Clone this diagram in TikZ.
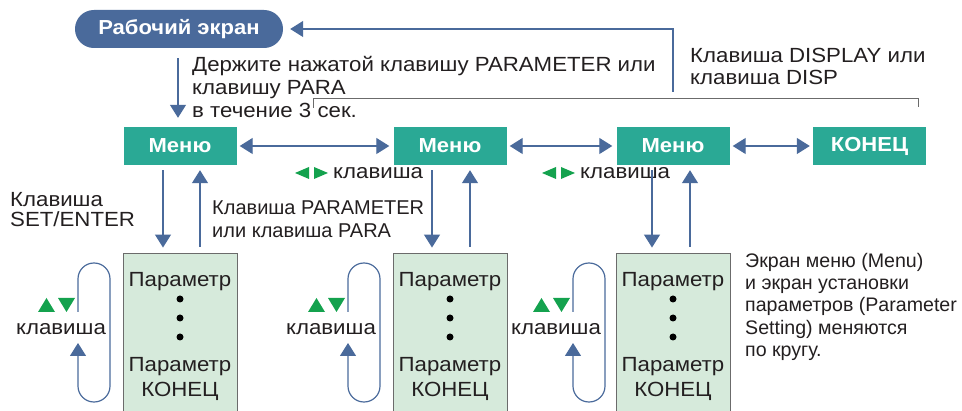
\documentclass[tikz,border=0pt]{standalone}
\usepackage{fontspec}
\setmainfont{Liberation Sans}[FakeStretch=1.085]
\newfontfamily\notefont{Liberation Sans}
\usetikzlibrary{arrows.meta}
\definecolor{cblue}{HTML}{4A6A9B}
\definecolor{cteal}{HTML}{2AA995}
\definecolor{cpale}{HTML}{D6EADB}
\definecolor{cgrid}{HTML}{6B6B6B}
\definecolor{cgreen}{HTML}{14A24E}
\definecolor{ctext}{HTML}{231F20}
\begin{document}
\begin{tikzpicture}[x=1pt,y=-1pt,
  txt/.style={font=\fontsize{20.5}{24}\selectfont, text=ctext, inner sep=0pt, anchor=base west},
  ctxt/.style={font=\fontsize{20.5}{24}\selectfont, text=ctext, inner sep=0pt, anchor=base},
  notetxt/.style={font=\notefont\fontsize{19.6}{24}\selectfont, text=ctext, inner sep=0pt, anchor=base west},
  arr/.style={draw=cblue, line width=1.3pt, -{Triangle[width=16pt,length=13pt]}},
  darr/.style={draw=cblue, line width=1.3pt, {Triangle[width=16pt,length=13pt]}-{Triangle[width=16pt,length=13pt]}},
  loopline/.style={draw=cblue, line width=1.2pt, rounded corners=15.9pt, -{Triangle[width=16pt,length=13pt]}},
  menubox/.style={fill=cteal, minimum width=113pt, minimum height=38pt, inner sep=0pt, text=white, font=\bfseries\fontsize{20.3}{24}\selectfont},
  pill/.style={fill=cblue, rounded corners=18.9pt, minimum width=208pt, minimum height=38pt, inner sep=0pt, text=white, font=\bfseries\fontsize{20.3}{24}\selectfont},
  parbox/.style={fill=cpale, draw=cgrid, line width=0.9pt, minimum width=114pt, minimum height=167pt, inner sep=0pt},
  bracket/.style={draw=cgrid, line width=0.8pt},
  gtri/.style={fill=cgreen},
  dot/.style={circle, fill=black, minimum size=7pt, inner sep=0pt}
]
\useasboundingbox (0,0) rectangle (962,411);
\clip (0,0) rectangle (962,411);

% top screen
\node[pill] (work) at (179,29) {Рабочий экран};

% menu row
\node[menubox] (m1) at (180,146) {Меню};
\node[menubox] (m2) at (450,146) {Меню};
\node[menubox] (m3) at (673,146) {Меню};
\node[menubox] (mend) at (869.5,146) {КОНЕЦ};

% parameter boxes
\node[parbox] (p1) at (180,336.5) {};
\node[parbox] (p2) at (450,336.5) {};
\node[parbox] (p3) at (673,336.5) {};

% DISPLAY arrow
\coordinate (dtop) at (673,92);
\draw[arr, shorten >=7pt] (dtop) |- (work.east);
\node[txt] at (690,63) {Клавиша DISPLAY или};
\node[txt] at (690,85) {клавиша DISP};

% bracket
\coordinate (bl) at (313,108);
\coordinate (br) at (918,98);
\coordinate (brb) at (918,107);
\draw[bracket] (bl) |- (br) -- (brb);

% hold arrow
\draw[arr] ([xshift=-1pt,yshift=-10pt]work.south) -- ([xshift=-2pt,yshift=9pt]m1.north);
\node[txt] at (192,72) {Держите нажатой клавишу PARAMETER или};
\node[txt] at (192,95) {клавишу PARA};
\node[txt] at (192,118) {в течение 3 сек.};

% horizontal double arrows
\draw[darr] ([xshift=3pt]m1.east) -- ([xshift=-4pt]m2.west);
\draw[darr] ([xshift=3pt]m2.east) -- ([xshift=-4pt]m3.west);
\draw[darr] ([xshift=3pt]m3.east) -- ([xshift=-3pt]mend.west);

% left/right key labels
\fill[gtri] (309,167) -- (309,179) -- (295,173) -- cycle;
\fill[gtri] (314,167) -- (314,179) -- (328,173) -- cycle;
\node[txt] at (333,179) {клавиша};
\fill[gtri] (556,167) -- (556,179) -- (542,173) -- cycle;
\fill[gtri] (561,167) -- (561,179) -- (575,173) -- cycle;
\node[txt] at (580,179) {клавиша};

% vertical arrows
\draw[arr] ([xshift=-17pt,yshift=-5pt]m1.south) -- ([xshift=-17pt,yshift=5pt]p1.north);
\draw[arr] ([xshift=20pt,yshift=6pt]p1.north) -- ([xshift=20pt,yshift=-5pt]m1.south);
\draw[arr] ([xshift=-18pt,yshift=-5pt]m2.south) -- ([xshift=-18pt,yshift=5pt]p2.north);
\draw[arr] ([xshift=20pt,yshift=6pt]p2.north) -- ([xshift=20pt,yshift=-5pt]m2.south);
\draw[arr] ([xshift=-21pt,yshift=-5pt]m3.south) -- ([xshift=-21pt,yshift=5pt]p3.north);
\draw[arr] ([xshift=17pt,yshift=6pt]p3.north) -- ([xshift=17pt,yshift=-5pt]m3.south);

\node[txt] at (10,207) {Клавиша};
\node[txt] at (10,227) {SET/ENTER};
\node[notetxt, font=\notefont\fontsize{20}{24}\selectfont] at (212,215) {Клавиша PARAMETER};
\node[notetxt, font=\notefont\fontsize{20}{24}\selectfont] at (212,238) {или клавиша PARA};

% parameter box contents
\foreach \c/\n in {180/1,450/2,673/3}{
  \node[ctxt] at (\c,287) {Параметр};
  \node[dot] at (\c,299) {};
  \node[dot] at (\c,318) {};
  \node[dot] at (\c,337) {};
  \node[ctxt] at (\c,372) {Параметр};
  \node[ctxt] at (\c,397) {КОНЕЦ};
}

% loops with up/down keys
\foreach \s in {0,270,495}{
  \begin{scope}[xshift=\s pt]
    \coordinate (la) at (78,312);
    \coordinate (lb) at (78,263);
    \coordinate (lc) at (110,263);
    \coordinate (ld) at (110,402);
    \coordinate (le) at (78,402);
    \coordinate (lf) at (78,343);
    \draw[loopline] (la) -- (lb) -- (lc) -- (ld) -- (le) -- (lf);
    \fill[gtri] (38,312) -- (55,312) -- (46.5,298) -- cycle;
    \fill[gtri] (58,298) -- (75,298) -- (66.5,312) -- cycle;
    \node[ctxt] at (61,335) {клавиша};
  \end{scope}
}

% right note
\node[notetxt] at (745,268) {Экран меню (Menu)};
\node[notetxt] at (745,290) {и экран установки};
\node[notetxt] at (745,312) {параметров (Parameter};
\node[notetxt] at (745,335) {Setting) меняются};
\node[notetxt] at (745,357) {по кругу.};
\end{tikzpicture}
\end{document}
